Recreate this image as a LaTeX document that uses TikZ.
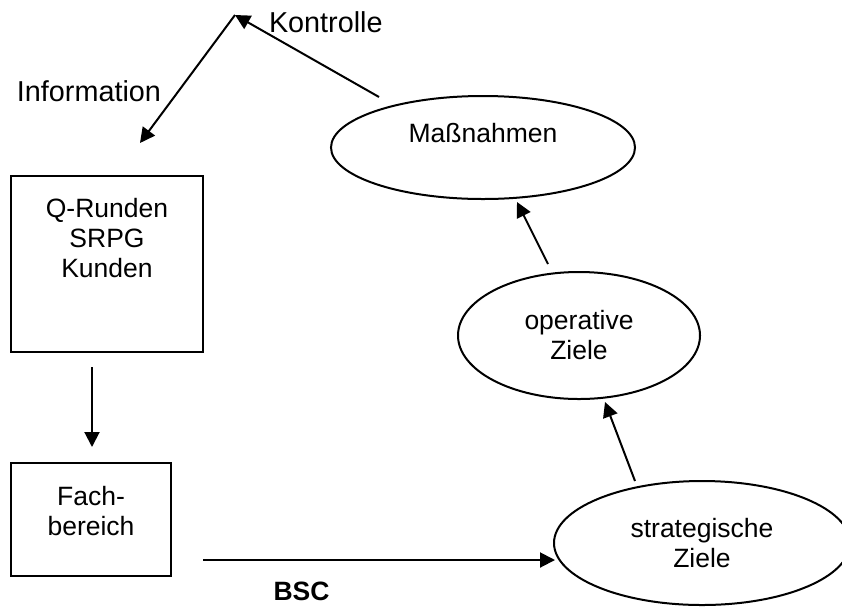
\documentclass[tikz,border=0pt]{standalone}
\usepackage{fontspec}
\setmainfont{Liberation Sans}
\usetikzlibrary{arrows.meta}
\usetikzlibrary{positioning}
\usetikzlibrary{shapes.geometric}

\begin{document}
\begin{tikzpicture}
    [x=1pt, y=-1pt, line width=2pt,
     every node/.style={font=\fontsize{26.5}{30}\selectfont},
     bx/.style={rectangle, draw, outer sep=0pt, anchor=north west},
     el/.style={ellipse, draw, outer sep=0pt, align=center},
     ar/.style={-{Triangle[length=15pt, width=15pt]}},
     tn/.style={inner sep=0pt, align=center},
     tl/.style={inner sep=0pt, font=\fontsize{28.8}{32}\selectfont}]

    \useasboundingbox (0,0) rectangle (842,606);

    \node [bx, minimum width=192, minimum height=176] (box0) at (11,176) {};
    \node [tn, below=21pt of box0.north] (t0) {Q-Runden\\SRPG\\Kunden};
    \node [bx, minimum width=160, minimum height=113, below=111pt of box0.south west, anchor=north west] (box1) {};
    \node [tn, below=22pt of box1.north] (t1) {Fach-\\bereich};

    \node [el, minimum width=304, minimum height=103, text depth=30pt] (el0) at (483,147.5) {Maßnahmen};
    \node [el, minimum width=242, minimum height=127] (el1) at (579,335.5) {operative\\Ziele};
    \node [el, minimum width=296, minimum height=124] (el2) at (702,543) {strategische\\Ziele};

    \coordinate (k0) at (235,15);
    \node [tl, anchor=west] (kontr) at (268,22.5) {Kontrolle};
    \node [tl, anchor=east] (info) at (162,91.5) {Information};

    \draw [ar] ([xshift=-104pt, yshift=-1pt] el0.north) -- (k0);
    \draw [ar] (k0) -- ([xshift=33pt, yshift=33pt] box0.north);
    \draw [ar] ([xshift=-15pt, yshift=-15pt] box0.south) -- ([xshift=1pt, yshift=16pt] box1.north);
    \draw [ar] ([xshift=32pt, yshift=-40.5pt] box1.east) -- node [tn, pos=0.28, below=21pt, font=\fontsize{26.5}{30}\selectfont\bfseries] (bsc) {BSC} ([xshift=1pt, yshift=-17pt] el2.west);
    \draw [ar] ([xshift=-67pt] el2.north) -- ([xshift=26pt, yshift=-3pt] el1.south);
    \draw [ar] ([xshift=-31pt, yshift=8pt] el1.north) -- ([xshift=34pt, yshift=-3pt] el0.south);
\end{tikzpicture}
\end{document}
